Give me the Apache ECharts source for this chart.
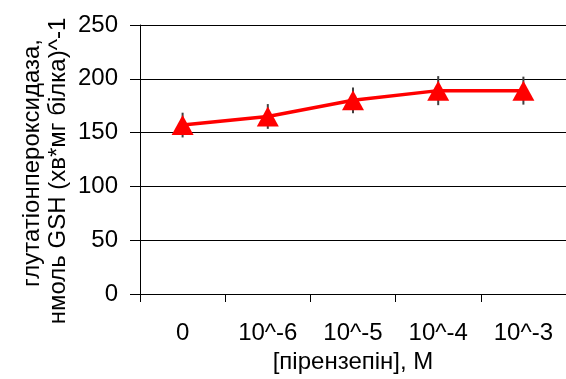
<!DOCTYPE html>
<html><head><meta charset="utf-8">
<script src="https://cdn.jsdelivr.net/npm/echarts@6/dist/echarts.min.js"></script>
<style>html,body{margin:0;padding:0;background:#fff}#c{width:566px;height:379px}</style>
</head><body><div id="c"></div>
<script>
const categories = ['0', '10^-6', '10^-5', '10^-4', '10^-3'];
const values = [157, 165, 180, 189, 189];
const errors = [11.5, 11.5, 12, 13.5, 13];
const yTicks = [0, 50, 100, 150, 200, 250];

const chart = echarts.init(document.getElementById('c'), null, {renderer: 'canvas'});
const font = 'Liberation Sans, Arial, sans-serif';
chart.setOption({
  animation: false,
  backgroundColor: '#fff',
  grid: {left: 140, top: 25, bottom: 85, right: -6, containLabel: false},
  xAxis: {
    type: 'category', data: categories, boundaryGap: true,
    name: '[пірензепін], М', nameLocation: 'middle', nameGap: 53,
    nameTextStyle: {fontFamily: font, fontSize: 24, color: '#000'},
    axisLine: {show: true, lineStyle: {color: '#000', width: 1}},
    axisTick: {show: true, alignWithLabel: false, length: 8, lineStyle: {color: '#000'}},
    axisLabel: {fontFamily: font, fontSize: 24, color: '#000', margin: 27, interval: 0},
    splitLine: {show: false}
  },
  yAxis: {
    type: 'value', min: yTicks[0], max: yTicks[yTicks.length - 1], interval: 50,
    axisLine: {show: true, lineStyle: {color: '#000', width: 1}},
    axisTick: {show: true, length: 10, lineStyle: {color: '#000'}},
    axisLabel: {fontFamily: font, fontSize: 24, color: '#000', margin: 22},
    splitLine: {show: true, lineStyle: {color: '#000', width: 1}}
  },
  graphic: [{
    type: 'text', x: 32, y: 163, rotation: Math.PI / 2,
    style: {text: 'глутатіонпероксидаза,', font: '24px ' + font, fill: '#000', textAlign: 'center', textVerticalAlign: 'middle'}
  }, {
    type: 'text', x: 58, y: 171, rotation: Math.PI / 2,
    style: {text: 'нмоль GSH (хв*мг білка)^-1', font: '24px ' + font, fill: '#000', textAlign: 'center', textVerticalAlign: 'middle'}
  }],
  series: [{
    type: 'custom',
    data: values.map((v, i) => [i, v - errors[i], v + errors[i]]),
    renderItem: function (params, api) {
      const lo = api.coord([api.value(0), api.value(1)]);
      const hi = api.coord([api.value(0), api.value(2)]);
      return {type: 'line', shape: {x1: lo[0], y1: lo[1], x2: hi[0], y2: hi[1]},
        style: {stroke: '#404040', lineWidth: 2}};
    },
    z: 1
  }, {
    type: 'line', data: values,
    symbol: 'triangle', symbolSize: [22, 20],
    lineStyle: {color: '#ff0000', width: 3.5},
    itemStyle: {color: '#ff0000'},
    z: 3
  }]
});
</script></body></html>
